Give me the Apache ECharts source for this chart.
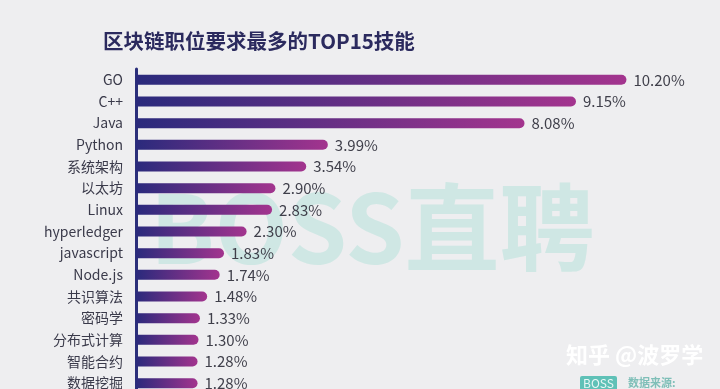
<!DOCTYPE html>
<html><head><meta charset="utf-8">
<script src="https://cdn.jsdelivr.net/npm/echarts@6/dist/echarts.min.js"></script>
<style>html,body{margin:0;padding:0;background:#eeeef0;overflow:hidden}#c{width:720px;height:394px}</style>
</head><body><div id="c"></div>
<script>
const categories = ['GO','C++','Java','Python','系统架构','以太坊','Linux','hyperledger','javascript','Node.js','共识算法','密码学','分布式计算','智能合约','数据挖掘'];
const values = [10.20, 9.15, 8.08, 3.99, 3.54, 2.90, 2.83, 2.30, 1.83, 1.74, 1.48, 1.33, 1.30, 1.28, 1.28];
const titleText = '区块链职位要求最多的TOP15技能';

const chart = echarts.init(document.getElementById('c'), null, {renderer:'canvas'});
const font = '"Noto Sans CJK SC","Noto Sans",sans-serif';
chart.setOption({
  backgroundColor:'#eeeef0',
  animation:false,
  title:{text:titleText,left:98,top:26,textStyle:{fontFamily:font,fontSize:20.5,fontWeight:'bold',color:'#2b2a5e'}},
  graphic:[
    {type:'text',left:150,top:180,z:0,style:{text:'BOSS直聘',font:'bold 95px '+font,fill:'#cfe7e4'}},
    {type:'text',left:566,top:344,z:100,style:{text:'知乎 @波罗学',font:'bold 22px '+font,fill:'#ffffff',shadowColor:'rgba(0,0,0,0.55)',shadowBlur:2,shadowOffsetX:1,shadowOffsetY:1}},
    {type:'rect',left:580,top:376,z:100,shape:{x:0,y:0,width:37,height:16,r:2},style:{fill:'#5fc1b7'}},
    {type:'text',left:583,top:377,z:101,style:{text:'BOSS',font:'12px '+font,fill:'#e8f7f5'}},
    {type:'text',left:628,top:377,z:101,style:{text:'数据来源:',font:'bold 11px '+font,fill:'#7fbfb8'}}
  ],
  grid:{left:136,top:69,width:577,bottom:0,containLabel:false},
  xAxis:{type:'value',min:0,max:12,show:false},
  yAxis:{type:'category',data:categories,inverse:true,
    axisLine:{show:true,lineStyle:{color:'#2b2f7a',width:3}},
    axisTick:{show:false},
    axisLabel:{margin:13,fontSize:14,color:'#3a3a4a',fontFamily:font}},
  series:[{type:'bar',data:values,barWidth:10,z:5,
    itemStyle:{borderRadius:[0,5,5,0],
      color:new echarts.graphic.LinearGradient(0,0,1,0,[{offset:0,color:'#2a2a7c'},{offset:1,color:'#a3348e'}])},
    label:{show:true,position:'right',distance:7,fontSize:15,color:'#3f3f4a',fontFamily:font,
      formatter:p=>p.value.toFixed(2)+'%'}}]
});
</script></body></html>
